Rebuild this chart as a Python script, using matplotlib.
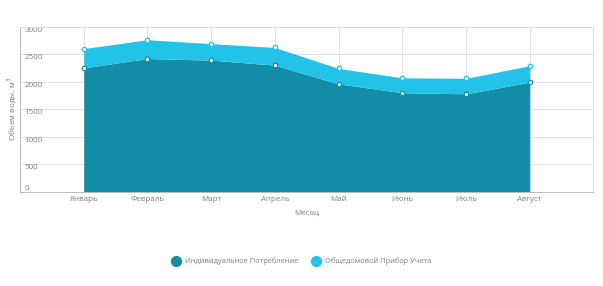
import matplotlib.pyplot as plt
import numpy as np

plt.rcParams['font.family'] = ['Open Sans', 'DejaVu Sans']

months = ['Январь', 'Февраль', 'Март', 'Апрель', 'Май', 'Июнь', 'Июль', 'Август']
individual = [2250, 2420, 2390, 2300, 1960, 1800, 1780, 1990]
communal = [350, 340, 300, 320, 280, 270, 280, 300]
yticks = [0, 500, 1000, 1500, 2000, 2500, 3000]

dark = '#138ca8'
light = '#22c3e6'
txt = '#7f7f7f'

x = np.arange(1, len(months) + 1)
total = np.array(individual) + np.array(communal)

fig = plt.figure(figsize=(6.03, 2.86), dpi=100)
ax = fig.add_axes([0.0332, 0.3287, 0.9508, 0.5786])

ax.fill_between(x, 0, individual, color=dark, lw=0, zorder=2)
ax.fill_between(x, individual, total, color=light, lw=0, zorder=2)
ax.plot(x, individual, 'o', ms=3.2, mfc='white', mec=dark, mew=0.9, zorder=3)
ax.plot(x, total, 'o', ms=3.2, mfc='white', mec=light, mew=0.9, zorder=3)

ax.set_xlim(0, 9)
ax.set_ylim(0, 3000)
ax.set_xticks(x)
ax.set_xticklabels(months, fontsize=5.8, color=txt)
ax.set_yticks(yticks)
ax.set_yticklabels([str(v) for v in yticks], fontsize=5.8, color=txt)
ax.tick_params(axis='y', length=0, pad=-3)
for lab in ax.get_yticklabels():
    lab.set_horizontalalignment('left')
    lab.set_verticalalignment('top' if lab.get_text() != '0' else 'bottom')
ax.tick_params(axis='x', length=0, pad=3)
ax.grid(True, color='#e2e2e2', lw=0.7, zorder=0)
for s in ax.spines.values():
    s.set_color('#dddddd')
    s.set_linewidth(0.7)
ax.spines['bottom'].set_color('#bbbbbb')
ax.spines['left'].set_color('#bbbbbb')

ax.set_xlabel('Месяц', fontsize=5.8, color=txt, labelpad=5)
ax.set_ylabel('Объем воды, м$^3$', fontsize=5.8, color=txt, labelpad=1)

h1 = ax.scatter([], [], s=50, color=dark)
h2 = ax.scatter([], [], s=50, color=light)
leg = fig.legend([h1, h2], ['Индивидуальное Потребление', 'Общедомовой Прибор Учета'],
                 loc='center', bbox_to_anchor=(0.497, 0.087), ncol=2, frameon=False,
                 fontsize=5.4, handletextpad=0.25, columnspacing=1.3)
for t in leg.get_texts():
    t.set_color(txt)

fig.savefig('out.png', dpi=100)
